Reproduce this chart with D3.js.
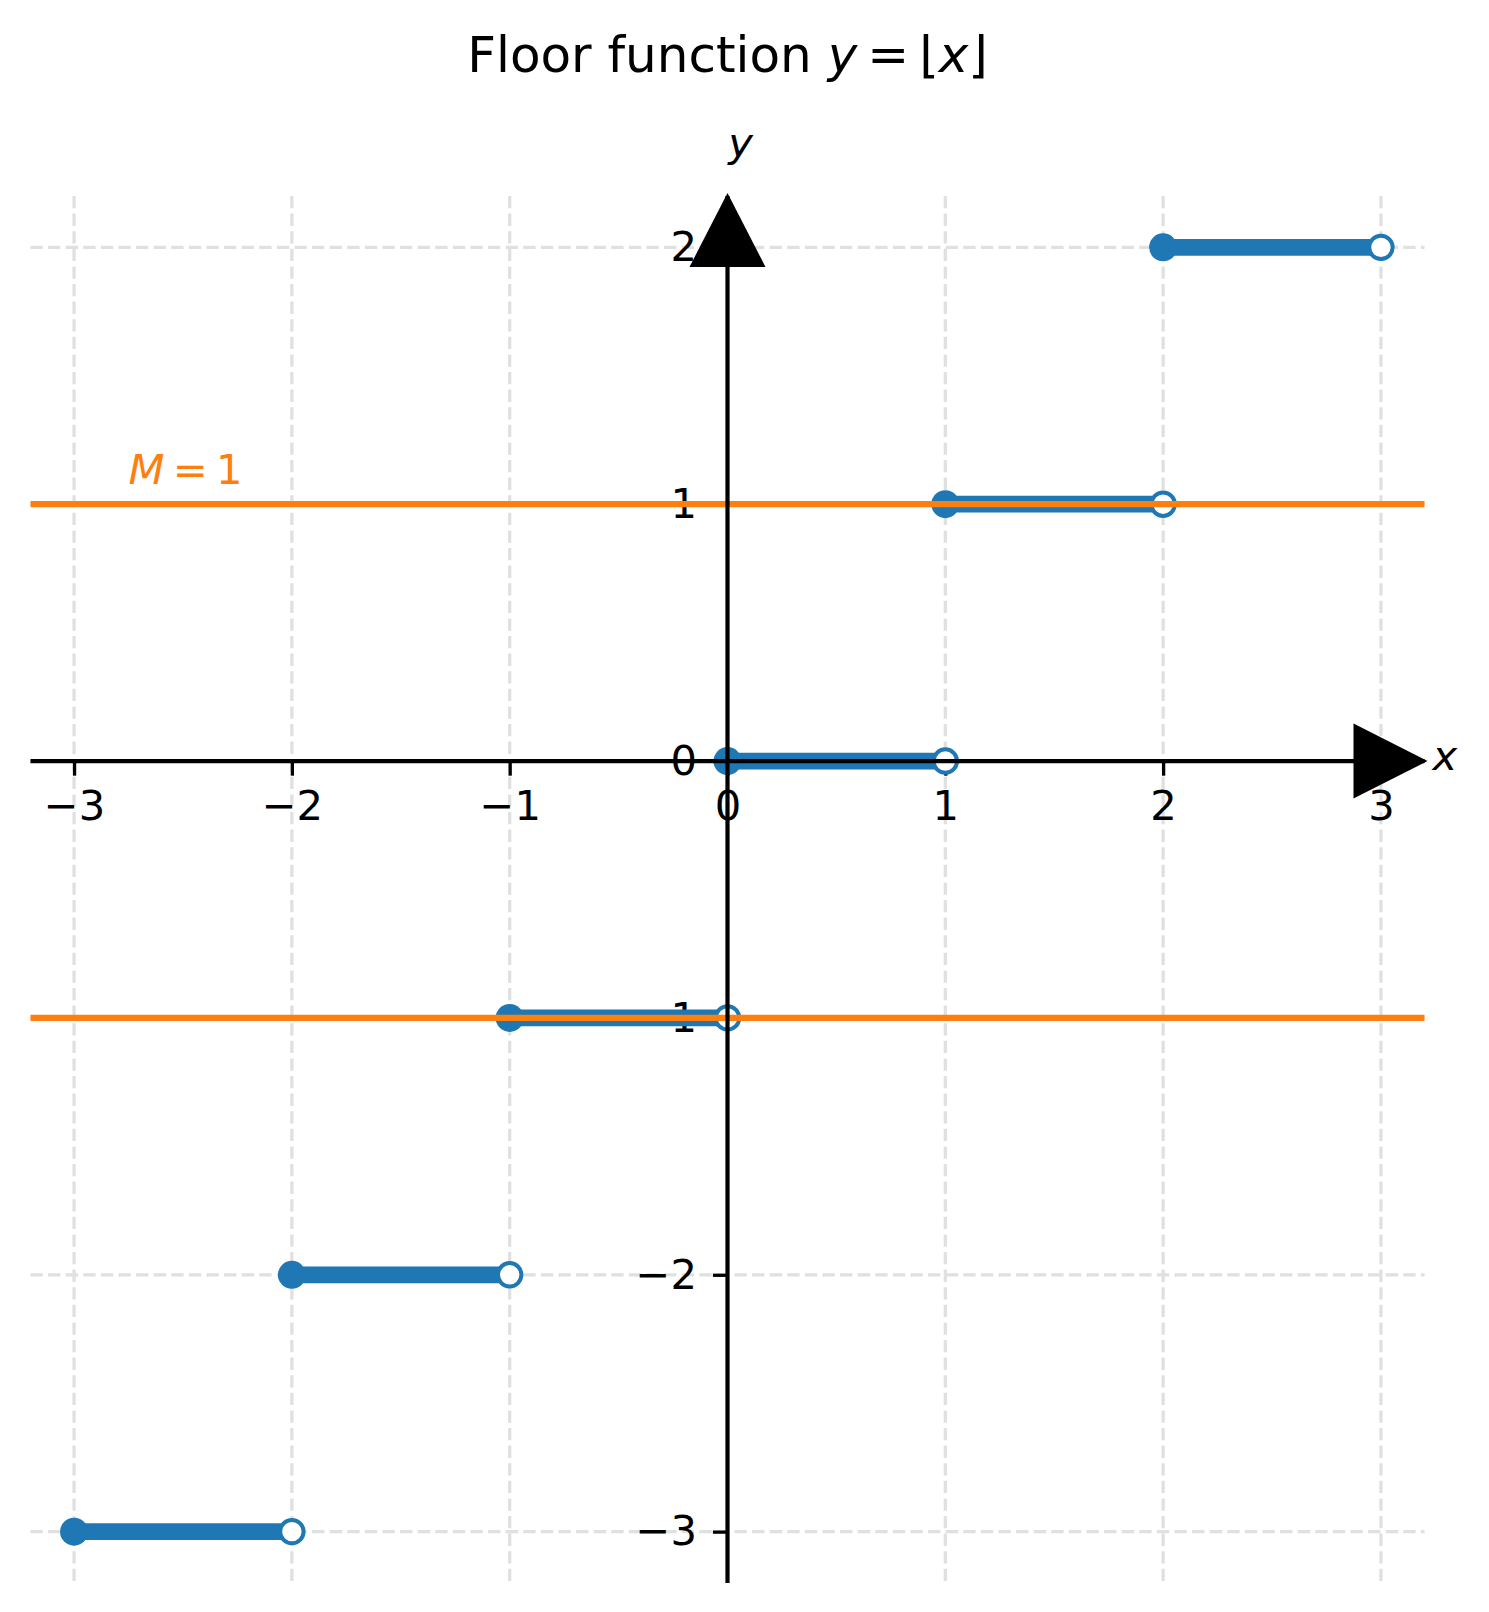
<!DOCTYPE html>
<html>
<head>
<meta charset="utf-8">
<script src="https://cdn.jsdelivr.net/npm/d3@7"></script>
<style>
  body { margin: 0; background: #fff; }
  text { font-family: "DejaVu Sans", sans-serif; }
</style>
</head>
<body>
<script>
// data
var xTicks = [-3, -2, -1, 0, 1, 2, 3];
var yTicks = [-3, -2, -1, 0, 1, 2];
var stepStart = [-3, -2, -1, 0, 1, 2];
var stepEnd = [-2, -1, 0, 1, 2, 3];
var stepValue = [-3, -2, -1, 0, 1, 2];
var boundValues = [1, -1];
var boundLabel = {x: -2.75, y: 1.08, name: "M", value: "1"};

var width = 1489, height = 1612;
var blue = "#1f77b4", orange = "#ff7f0e";
var fontTick = 41.7;
var thin = "\u2009";

var x = d3.scaleLinear().domain([-3.2, 3.2]).range([30.5, 1424.5]);
var y = d3.scaleLinear().domain([-3.2, 2.2]).range([1583, 196]);

var svg = d3.select("body").append("svg")
    .attr("width", width)
    .attr("height", height);

svg.append("rect")
    .attr("width", width)
    .attr("height", height)
    .attr("fill", "#fff");

//*********** title *******************
var title = svg.append("text")
    .attr("x", (x.range()[0] + x.range()[1]) / 2)
    .attr("y", 72)
    .attr("text-anchor", "middle")
    .style("font-size", "50px");
title.append("tspan").text("Floor function ");
title.append("tspan").style("font-style", "italic").text("y");
title.append("tspan").text(thin + "=" + thin + "\u230A");
title.append("tspan").style("font-style", "italic").text("x");
title.append("tspan").text("\u230B");

//*********** grid *******************
var grid = svg.append("g")
    .attr("stroke", "#e0e0e0")
    .attr("stroke-width", 3.3)
    .attr("stroke-dasharray", "12.3,5.3");
grid.selectAll(".vgrid").data(xTicks).enter().append("line")
    .attr("x1", d => x(d)).attr("x2", d => x(d))
    .attr("y1", y.range()[1]).attr("y2", y.range()[0]);
grid.selectAll(".hgrid").data(yTicks).enter().append("line")
    .attr("y1", d => y(d)).attr("y2", d => y(d))
    .attr("x1", x.range()[0]).attr("x2", x.range()[1]);

//*********** ticks + labels (under data) *******************
var fmt = d => d < 0 ? "\u2212" + Math.abs(d) : String(d);
var gx = svg.append("g")
    .attr("transform", "translate(0," + y(0) + ")")
    .call(d3.axisBottom(x).tickValues(xTicks).tickFormat(fmt).tickSize(14.6).tickPadding(15));
var gy = svg.append("g")
    .attr("transform", "translate(" + x(0) + ",0)")
    .call(d3.axisLeft(y).tickValues(yTicks).tickFormat(fmt).tickSize(14.6).tickPadding(16));
[gx, gy].forEach(function(g){
    g.select(".domain").remove();
    g.selectAll(".tick line").attr("stroke", "#000").attr("stroke-width", 3.3);
    g.selectAll(".tick text")
        .attr("fill", "#000")
        .style("font-family", "DejaVu Sans")
        .style("font-size", fontTick + "px");
});

//*********** steps *******************
var steps = stepStart.map((s, i) => ({x0: s, x1: stepEnd[i], v: stepValue[i]}));
var gs = svg.append("g");
gs.selectAll(".seg").data(steps).enter().append("line")
    .attr("x1", d => x(d.x0)).attr("x2", d => x(d.x1))
    .attr("y1", d => y(d.v)).attr("y2", d => y(d.v))
    .attr("stroke", blue)
    .attr("stroke-width", 16.7);
gs.selectAll(".closed").data(steps).enter().append("circle")
    .attr("cx", d => x(d.x0)).attr("cy", d => y(d.v))
    .attr("r", 14)
    .attr("fill", blue);
gs.selectAll(".open").data(steps).enter().append("circle")
    .attr("cx", d => x(d.x1)).attr("cy", d => y(d.v))
    .attr("r", 11.7)
    .attr("fill", "#fff")
    .attr("stroke", blue)
    .attr("stroke-width", 4);

//*********** bounds *******************
svg.selectAll(".bound").data(boundValues).enter().append("line")
    .attr("x1", x.range()[0]).attr("x2", x.range()[1])
    .attr("y1", d => y(d)).attr("y2", d => y(d))
    .attr("stroke", orange)
    .attr("stroke-width", 6.3);

var ml = svg.append("text")
    .attr("x", x(boundLabel.x))
    .attr("y", y(boundLabel.y))
    .attr("fill", orange)
    .style("font-size", fontTick + "px");
ml.append("tspan").style("font-style", "italic").text(boundLabel.name);
ml.append("tspan").text(thin + "=" + thin + boundLabel.value);

//*********** spines + arrows *******************
svg.append("line")
    .attr("x1", x.range()[0]).attr("x2", x.range()[1])
    .attr("y1", y(0)).attr("y2", y(0))
    .attr("stroke", "#000").attr("stroke-width", 4.2);
svg.append("line")
    .attr("x1", x(0)).attr("x2", x(0))
    .attr("y1", y.range()[0]).attr("y2", y.range()[1])
    .attr("stroke", "#000").attr("stroke-width", 4.2);

var xr = x.range()[1] + 3, ys0 = y(0);
svg.append("path")
    .attr("d", "M" + xr + "," + ys0 + "L" + (xr - 74) + "," + (ys0 - 37.5) + "L" + (xr - 74) + "," + (ys0 + 37.5) + "Z")
    .attr("fill", "#000");
var yt = y.range()[1] - 3, xs0 = x(0);
svg.append("path")
    .attr("d", "M" + xs0 + "," + yt + "L" + (xs0 - 38) + "," + (yt + 74) + "L" + (xs0 + 38) + "," + (yt + 74) + "Z")
    .attr("fill", "#000");

svg.append("text")
    .attr("x", xr + 5)
    .attr("y", ys0 + 9)
    .style("font-style", "italic")
    .style("font-size", fontTick + "px")
    .text("x");
svg.append("text")
    .attr("x", xs0 + 13)
    .attr("y", 157)
    .attr("text-anchor", "middle")
    .style("font-style", "italic")
    .style("font-size", fontTick + "px")
    .text("y");
</script>
</body>
</html>
